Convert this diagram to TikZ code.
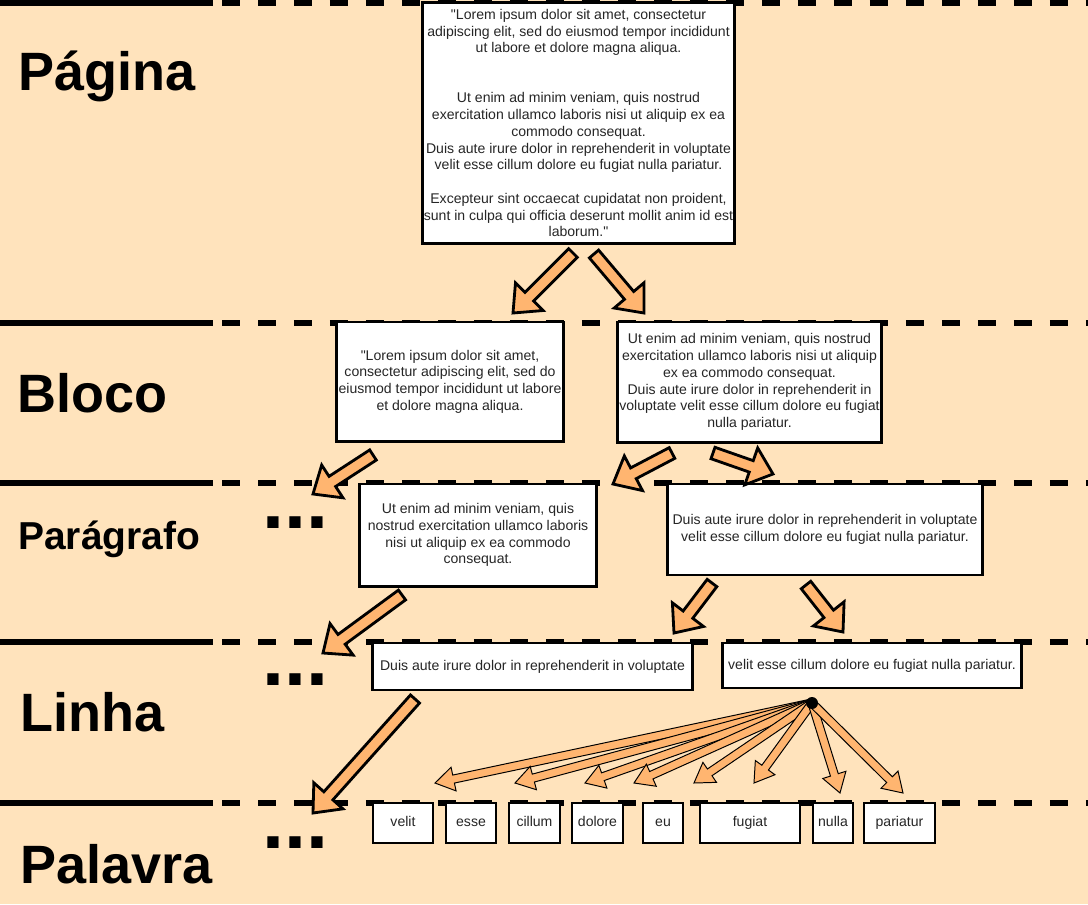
\documentclass[tikz,border=0pt]{standalone}
\usepackage{fontspec}
\setmainfont{Liberation Sans}[Ligatures=TeXOff]
\usetikzlibrary{calc}
\definecolor{bgpeach}{HTML}{FFE3BC}
\definecolor{arroworange}{HTML}{FFB570}

% style, tail, tip, shaft half width, head half width, head length
\newcommand{\blockarrow}[6]{%
  \coordinate (ba-h) at ($(#3)!#6!(#2)$);
  \draw[#1] ($(#2)!#4!90:(#3)$) -- ($(ba-h)!#4!90:(#3)$) -- ($(ba-h)!#5!90:(#3)$)
    -- (#3) -- ($(ba-h)!#5!-90:(#3)$) -- ($(ba-h)!#4!-90:(#3)$) -- ($(#2)!#4!-90:(#3)$) -- cycle;}
\newcommand{\bigarrow}[2]{\blockarrow{bigarr}{#1}{#2}{4.3pt}{13.9pt}{16.4pt}}
\newcommand{\smallarrow}[2]{\blockarrow{smallarr}{#1}{#2}{2.9pt}{8.6pt}{13.5pt}}

\begin{document}
\begin{tikzpicture}[x=0.025cm, y=-0.025cm,
  box/.style={draw=black, line width=2.1pt, fill=white, align=center, inner sep=0pt,
    text=black!85, font=\fontsize{10}{11.9}\selectfont},
  wordbox/.style={box, minimum height=1cm, text height=7.2pt, text depth=2.2pt},
  level/.style={anchor=base west, inner sep=0pt, font=\fontsize{38.4}{40}\selectfont\bfseries},
  dots/.style={anchor=base west, inner sep=0pt, font=\fontsize{56.2}{56}\selectfont\bfseries},
  solidrule/.style={line width=4pt},
  dashrule/.style={line width=4pt, dash pattern=on 12.8pt off 12.8pt},
  bigarr/.style={draw=black, line width=2pt, fill=arroworange},
  smallarr/.style={draw=black, line width=0.7pt, fill=arroworange}]

\fill[bgpeach] (0,0) rectangle (1088,904);
\useasboundingbox (0,0) rectangle (1088,904);

% level separators
\foreach \y in {3,323,483,642,803} {
  \draw[solidrule] (0,\y) -- (213,\y);
  \draw[dashrule] (222,\y) -- (1088,\y);
}

% level names
\node[level] (lpagina) at (18,90) {Página};
\node[level] (lbloco) at (17,412) {Bloco};
\node[level, font=\fontsize{27.7}{30}\selectfont\bfseries] (lparagrafo) at (18,549) {Parágrafo};
\node[level] (llinha) at (20,731) {Linha};
\node[level] (lpalavra) at (20,883) {Palavra};

\node[dots] (dpar) at (262.4,528) {...};
\node[dots] (dlin) at (262.4,685) {...};
\node[dots] (dpal) at (262.4,848) {...};

% boxes
\node[box, minimum width=7.775cm, minimum height=6cm] (page) at (578.5,123)
  {"Lorem ipsum dolor sit amet, consectetur\\adipiscing elit, sed do eiusmod tempor incididunt\\ut labore et dolore magna aliqua.\\[23.8pt]Ut enim ad minim veniam, quis nostrud\\exercitation ullamco laboris nisi ut aliquip ex ea\\commodo consequat.\\Duis aute irure dolor in reprehenderit in voluptate\\velit esse cillum dolore eu fugiat nulla pariatur.\\[11.9pt]Excepteur sint occaecat cupidatat non proident,\\sunt in culpa qui officia deserunt mollit anim id est\\laborum."};
\node[box, minimum width=5.65cm, minimum height=2.975cm] (blocoa) at (450,381.5)
  {"Lorem ipsum dolor sit amet,\\consectetur adipiscing elit, sed do\\eiusmod tempor incididunt ut labore\\et dolore magna aliqua.};
\node[box, minimum width=6.575cm, minimum height=3cm] (blocob) at (749.5,382)
  {Ut enim ad minim veniam, quis nostrud\\exercitation ullamco laboris nisi ut aliquip\\ex ea commodo consequat.\\Duis aute irure dolor in reprehenderit in\\voluptate velit esse cillum dolore eu fugiat\\nulla pariatur.};
\node[box, minimum width=5.9cm, minimum height=2.55cm] (para) at (478,535)
  {Ut enim ad minim veniam, quis\\nostrud exercitation ullamco laboris\\nisi ut aliquip ex ea commodo\\consequat.};
\node[box, minimum width=7.85cm, minimum height=2.275cm] (parb) at (825,529.5)
  {Duis aute irure dolor in reprehenderit in voluptate\\velit esse cillum dolore eu fugiat nulla pariatur.};
\node[box, minimum width=7.975cm, minimum height=1.175cm] (lina) at (532.5,666.5)
  {Duis aute irure dolor in reprehenderit in voluptate};
\node[box, minimum width=7.45cm, minimum height=1.125cm] (linb) at (872,665.5)
  {velit esse cillum dolore eu fugiat nulla pariatur.};

\foreach \word/\cx/\bw in {velit/403/1.5, esse/471/1.25, cillum/534.5/1.275, dolore/597.5/1.275,
    eu/663/1.0, fugiat/750/2.5, nulla/833/1.0, pariatur/899.5/1.775}
  \node[wordbox, minimum width=\bw cm] (w-\word) at (\cx,823) {\word};

% splitting arrows
\foreach \i/\sx/\sy/\ex/\ey in {1/573/253/513/313, 2/594/254/644/313, 3/373/455/313/494,
    4/672/453/613/484, 5/713/453/773/474, 6/402/595/323/653, 7/712/583/674/633,
    8/806/585/843/632, 9/415/699/313/813} {
  \coordinate (s\i) at (\sx,\sy);
  \coordinate (e\i) at (\ex,\ey);
  \bigarrow{s\i}{e\i}
}

% line to words
\coordinate (hub) at (812,703);
\foreach \word/\tx/\ty in {velit/435/783, esse/515/783, cillum/585/783, dolore/634/783,
    eu/694/783, fugiat/754/783, nulla/840/793, pariatur/903/793} {
  \coordinate (t-\word) at (\tx,\ty);
  \smallarrow{hub}{t-\word}
}
\node[circle, fill=black, minimum size=0.3cm, inner sep=0pt] (hubdot) at (hub) {};

\end{tikzpicture}
\end{document}
